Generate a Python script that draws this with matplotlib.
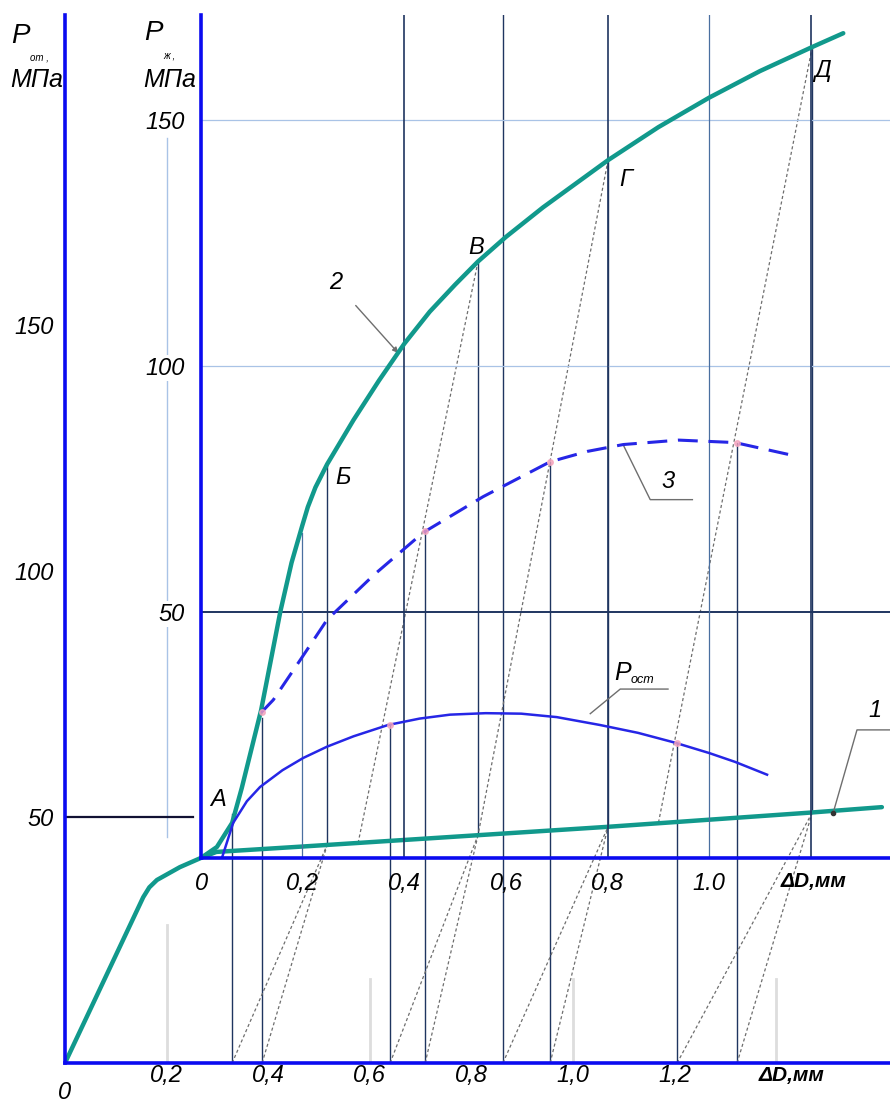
import numpy as np
import matplotlib
matplotlib.use('Agg')
from matplotlib import pyplot as plt

# ---- data (outer axes: P_ot vs dD; inner axes: P_zh vs dD) ----
x_max = 1.624          # outer dD range, mm
y_max = 213.0          # outer P range, MPa
inner_x0 = 0.268       # inner origin in outer units
inner_y0 = 41.7

# curve 1 (outer coordinates)
c1_x = [0, 0.154, 0.166, 0.181, 0.226, 0.268, 0.298, 0.468, 0.768, 1.068, 1.468, 1.608]
c1_y = [0, 33.7, 35.7, 37.2, 39.8, 41.7, 42.9, 44.0, 46.0, 48.0, 50.9, 52.0]

# curve 2 (inner coordinates)
c2_x = [0, 0.031, 0.061, 0.08, 0.118, 0.156, 0.178, 0.199, 0.21, 0.225, 0.248, 0.3,
        0.35, 0.4, 0.45, 0.5, 0.545, 0.6, 0.673, 0.801, 0.9, 1.0, 1.1, 1.203, 1.264]
c2_y = [0, 2.2, 7.1, 14.2, 30.0, 50.1, 60.0, 67.5, 71.3, 75.3, 80.0, 89.0,
        97.0, 104.5, 111.0, 116.5, 121.2, 126.2, 132.2, 141.8, 148.5, 154.5, 159.9, 164.8, 167.6]

# curve 3 (dashed)
c3_x = [0.118, 0.142, 0.195, 0.248, 0.34, 0.437, 0.555, 0.687, 0.76, 0.831, 0.94, 1.051, 1.173]
c3_y = [29.5, 32.1, 40.2, 48.4, 57.5, 66.1, 73.4, 80.5, 82.6, 84.0, 84.9, 84.4, 81.6]

# residual pressure P_ost
po_x = [0.041, 0.063, 0.09, 0.116, 0.16, 0.201, 0.248, 0.30, 0.368, 0.43, 0.49,
        0.56, 0.63, 0.7, 0.785, 0.86, 0.933, 1.0, 1.051, 1.114]
po_y = [0, 7.1, 11.5, 14.4, 17.8, 20.3, 22.6, 24.7, 27.0, 28.3, 29.1,
        29.4, 29.3, 28.6, 27.0, 25.4, 23.4, 21.3, 19.5, 16.9]

# points Б..Д on curve 2
pt_names = ['Б', 'В', 'Г', 'Д']
pt_x = [0.248, 0.545, 0.801, 1.203]
pt_y = [80.0, 121.2, 141.8, 164.8]

# construction verticals (inner x, top in inner y) running down to outer axis
vert_x = [0.061, 0.120, 0.372, 0.441, 0.594, 0.687, 0.937, 1.055]
vert_top = [9.0, 28.5, 27.1, 66.3, 171.3, 80.5, 23.3, 84.3]
# pairs of verticals joined to the point under Б, В, Г, Д on curve 1
pair_idx = [(0, 1), (2, 3), (4, 5), (6, 7)]
# unloading lines from В, Г, Д down to curve 1 (end x, inner)
slant_from = [1, 2, 3]
slant_end_x = [0.309, 0.545, 0.90]

# marks on curve 3 and P_ost
c3_marks = [0.120, 0.441, 0.687, 1.055]
po_marks = [0.372, 0.937]

out_xticks = [0.2, 0.4, 0.6, 0.8, 1.0, 1.2]
out_xlabels = ['0,2', '0,4', '0,6', '0,8', '1,0', '1,2']
out_yticks = [50, 100, 150]
in_xticks = [0, 0.2, 0.4, 0.6, 0.8, 1.0]
in_xlabels = ['0', '0,2', '0,4', '0,6', '0,8', '1.0']
in_yticks = [50, 100, 150]

# ---- style ----
teal = '#11998c'
blue = '#2626e6'
navy = '#1f3560'
axis_blue = '#0b0bf0'
light = '#a9c3e6'
grey = '#6e6e6e'
pink = '#f4a3bd'

plt.rcParams['font.family'] = ['Liberation Sans Narrow', 'Liberation Sans', 'DejaVu Sans']
plt.rcParams['font.style'] = 'italic'
plt.rcParams['lines.solid_joinstyle'] = 'round'
plt.rcParams['lines.dash_joinstyle'] = 'round'

fig = plt.figure(figsize=(8.9, 11.04), dpi=100)
fig.set_facecolor('white')
W, H = 890, 1104
ol, ob, orr, ot = 65, 1063, 890, 15
out = fig.add_axes([ol / W, (H - ob) / H, (orr - ol) / W, (ob - ot) / H])
out.set_xlim(0, x_max)
out.set_ylim(0, y_max)

pos = out.get_position()
inn = fig.add_axes([pos.x0 + inner_x0 / x_max * pos.width,
                    pos.y0 + inner_y0 / y_max * pos.height,
                    (x_max - inner_x0) / x_max * pos.width,
                    (y_max - inner_y0) / y_max * pos.height])
inn.set_xlim(0, x_max - inner_x0)
inn.set_ylim(0, y_max - inner_y0)
inn.patch.set_alpha(0)

for ax in (out, inn):
    for s in ('top', 'right'):
        ax.spines[s].set_visible(False)
    for s in ('left', 'bottom'):
        ax.spines[s].set_color(axis_blue)
        ax.spines[s].set_linewidth(2.6)
        ax.spines[s].set_zorder(6)

# ticks
out.set_xticks(out_xticks, out_xlabels)
out.set_yticks(out_yticks)
out.tick_params(length=0, labelsize=17, pad=1)
out.tick_params(axis='y', pad=8)
inn.set_xticks(in_xticks, in_xlabels)
inn.set_yticks(in_yticks)
inn.tick_params(length=0, labelsize=17, pad=10)
inn.tick_params(axis='y', pad=12)
for lab in inn.get_yticklabels():
    lab.set_bbox(dict(facecolor='white', edgecolor='none', pad=1))

# light outer guide lines
out.plot([0.2, 0.2], [46, 188], color=light, lw=1.0, zorder=0)
out.plot([0.2, 0.2], [0, 28], color='#dddddd', lw=2.0, zorder=0)
for gx in (0.6, 1.0, 1.4):
    out.plot([gx, gx], [0, 17], color='#dddddd', lw=2.0, zorder=0)
out.plot([0, 0.252], [50, 50], color='#111133', lw=1.6)

# inner grid
y_top_in = y_max - inner_y0
inn.plot([0, x_max - inner_x0], [50, 50], color=navy, lw=1.4, zorder=1)
for gy in (100, 150):
    inn.plot([0, x_max - inner_x0], [gy, gy], color=light, lw=0.9, zorder=1)
for gx in (0.4, 0.8, 1.2):
    inn.plot([gx, gx], [0, y_top_in], color=navy, lw=1.2, zorder=1)
inn.plot([1.0, 1.0], [0, y_top_in], color='#4a6fa0', lw=0.9, zorder=1)
inn.plot([0.199, 0.199], [0, 66], color='#4a6fa0', lw=0.9, zorder=1)

# construction verticals down to the outer axis
for vx, vt in zip(vert_x, vert_top):
    out.plot([vx + inner_x0] * 2, [0, vt + inner_y0], color=navy, lw=1.0, zorder=2)

# verticals from Б..Д to curve 1 and lines to the outer axis
knee_x = [px + inner_x0 for px in pt_x]
knee_y = list(np.interp(knee_x, c1_x, c1_y))
for kx, ky, py in zip(knee_x, knee_y, pt_y):
    out.plot([kx, kx], [ky, py + inner_y0], color=navy, lw=1.0, zorder=2)
for (a, b), kx, ky in zip(pair_idx, knee_x, knee_y):
    for i in (a, b):
        out.plot([vert_x[i] + inner_x0, kx], [0, ky], color=grey, lw=0.9,
                 ls=(0, (2.5, 2)), zorder=2)

# unloading lines
for i, ex in zip(slant_from, slant_end_x):
    ex_o = ex + inner_x0
    ey_o = np.interp(ex_o, c1_x, c1_y)
    out.plot([pt_x[i] + inner_x0, ex_o], [pt_y[i] + inner_y0, ey_o], color=grey,
             lw=0.9, ls=(0, (2.5, 2)), zorder=2)

# main curves
out.plot(c1_x, c1_y, color=teal, lw=3.2, solid_capstyle='round', zorder=4)
inn.plot(c2_x, c2_y, color=teal, lw=3.2, solid_capstyle='round', zorder=4)
inn.plot(c3_x, c3_y, color=blue, lw=2.2, ls=(0, (6.5, 3.5)), zorder=4)
inn.plot(po_x, po_y, color=blue, lw=1.8, zorder=4)

inn.plot(c3_marks, np.interp(c3_marks, c3_x, c3_y), 'o', color=pink, ms=4,
         alpha=0.8, zorder=5)
inn.plot(po_marks, np.interp(po_marks, po_x, po_y), 'o', color=pink, ms=4,
         alpha=0.8, zorder=5)

# point letters
inn.text(0.033, 11.8, 'А', fontsize=17, ha='center', va='center')
letter_off = [(0.032, -2.8), (-0.004, 2.8), (0.034, -4.0), (0.021, -4.8)]
for n, x, y, (dx, dy) in zip(pt_names, pt_x, pt_y, letter_off):
    inn.text(x + dx, y + dy, n, fontsize=17, ha='center', va='center')

# leaders
inn.annotate('2', xy=(0.388, 102.6), xytext=(0.264, 116.9), fontsize=17,
             ha='center', va='center',
             arrowprops=dict(arrowstyle='-|>', color=grey, lw=1.0,
                             shrinkA=12, shrinkB=0, mutation_scale=8))
inn.plot([0.831, 0.884, 0.967], [83.9, 72.8, 72.8], color=grey, lw=1.0, zorder=3)
inn.text(0.919, 76.4, '3', fontsize=17, ha='center', va='center')
inn.plot([0.766, 0.825, 0.919], [29.3, 34.3, 34.3], color=grey, lw=1.0, zorder=3)
inn.text(0.83, 37.6, 'P', fontsize=18, ha='center', va='center')
inn.text(0.845, 34.9, 'ост', fontsize=9, ha='left', va='bottom')
inn.plot([1.244, 1.291, 1.356], [9.1, 26.0, 26.0], color=grey, lw=1.0, zorder=3)
inn.plot([1.244], [9.1], 'o', color='#333333', ms=3, zorder=5)
inn.text(1.327, 30.0, '1', fontsize=17, ha='center', va='center')

# axis titles and ends
out.text(0.0, -5.9, '0', fontsize=17, ha='center', va='center', clip_on=False)
out.text(1.43, -2.6, 'ΔD,мм', fontsize=15, weight='bold', ha='center',
         va='center', clip_on=False)
inn.text(1.205, -4.9, 'ΔD,мм', fontsize=15, weight='bold', ha='center',
         va='center', clip_on=False)

fig.text(20 / W, 1 - 36 / H, 'P', fontsize=20, ha='center', va='center')
fig.text(30 / W, 1 - 58 / H, 'от ,', fontsize=7, ha='left', va='center')
fig.text(37 / W, 1 - 80 / H, 'МПа', fontsize=18, ha='center', va='center')
fig.text(153 / W, 1 - 33 / H, 'P', fontsize=20, ha='center', va='center')
fig.text(163 / W, 1 - 55 / H, 'ж ,', fontsize=7, ha='left', va='center')
fig.text(170 / W, 1 - 80 / H, 'МПа', fontsize=18, ha='center', va='center')

fig.savefig('out.png', dpi=100)
